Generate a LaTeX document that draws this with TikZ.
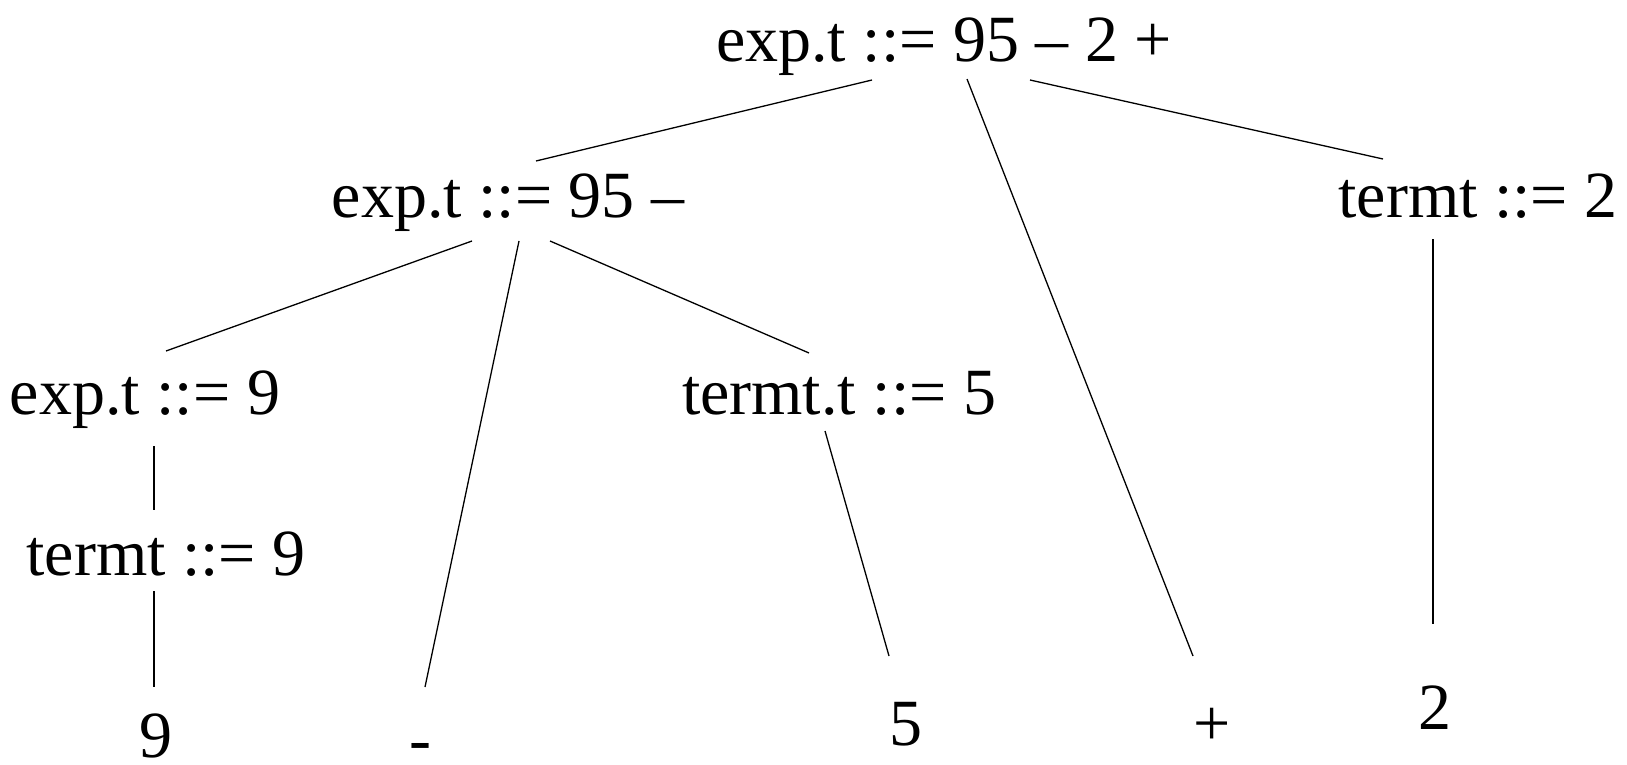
\documentclass[tikz,border=0pt]{standalone}
\usepackage{fontspec}
\setmainfont{Liberation Serif}

\begin{document}
\begin{tikzpicture}[
  x=1pt, y=-1pt,
  lbl/.style={inner sep=0pt, anchor=base, font=\fontsize{66}{79}\selectfont},
  edge/.style={line width=1.3pt},
]
  \useasboundingbox (0,0) rectangle (1627,765);

  % inner nodes
  \node[lbl] (root)     at (944,62)  {exp.t ::= 95 – 2 +};
  \node[lbl] (expmin)   at (508,217) {exp.t ::= 95 –};
  \node[lbl] (termtwo)  at (1478,217) {termt ::= 2};
  \node[lbl] (expnine)  at (145,414) {exp.t ::= 9};
  \node[lbl] (termfive) at (839,414) {termt.t ::= 5};
  \node[lbl] (termnine) at (166,575) {termt ::= 9};

  % leaves
  \node[lbl] (leafnine)  at (156,757)  {9};
  \node[lbl] (leafminus) at (420,761)  {-};
  \node[lbl] (leaffive)  at (906,745)  {5};
  \node[lbl] (leafplus)  at (1212,745) {+};
  \node[lbl] (leaftwo)   at (1435,729) {2};

  % edges
  \draw[edge] ([shift={(-72,18)}]root.base) -- ([shift={(28,-56)}]expmin.base);
  \draw[edge] ([shift={(23,17)}]root.base) -- ([shift={(-19,-89)}]leafplus.base);
  \draw[edge] ([shift={(86,18)}]root.base) -- ([shift={(-95,-58)}]termtwo.base);

  \draw[edge] ([shift={(-36,24)}]expmin.base) -- ([shift={(21,-63)}]expnine.base);
  \draw[edge] ([shift={(11,24)}]expmin.base) -- ([shift={(5,-74)}]leafminus.base);
  \draw[edge] ([shift={(42,24)}]expmin.base) -- ([shift={(-30,-61)}]termfive.base);

  \draw[edge] ([shift={(9,32)}]expnine.base) -- ([shift={(-12,-65)}]termnine.base);
  \draw[edge] ([shift={(-12,16)}]termnine.base) -- ([shift={(-2,-70)}]leafnine.base);
  \draw[edge] ([shift={(-14,17)}]termfive.base) -- ([shift={(-17,-89)}]leaffive.base);
  \draw[edge] ([shift={(-45,22)}]termtwo.base) -- ([shift={(-2,-105)}]leaftwo.base);
\end{tikzpicture}
\end{document}
